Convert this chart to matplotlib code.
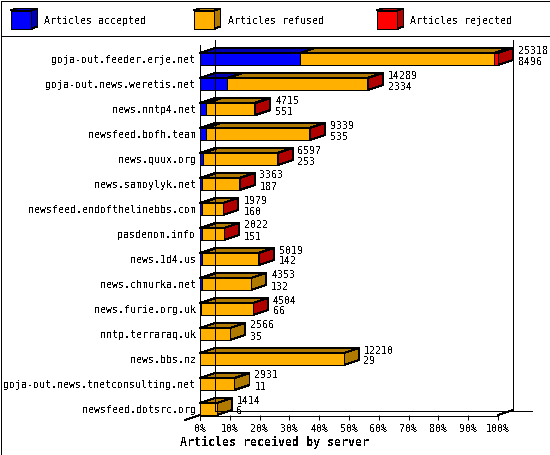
import matplotlib
matplotlib.use("Agg")
import matplotlib.pyplot as plt
from matplotlib.patches import Polygon
from matplotlib.lines import Line2D
from matplotlib.transforms import Affine2D, IdentityTransform

servers = ["goja-out.feeder.erje.net", "goja-out.news.weretis.net", "news.nntp4.net",
           "newsfeed.bofh.team", "news.quux.org", "news.samoylyk.net",
           "newsfeed.endofthelinebbs.com", "pasdenom.info", "news.1d4.us",
           "news.chmurka.net", "news.furie.org.uk", "nntp.terraraq.uk",
           "news.bbs.nz", "goja-out.news.tnetconsulting.net", "newsfeed.dotsrc.org"]
offered = [25318, 14289, 4715, 9339, 6597, 3363, 1979, 2022, 5019, 4353, 4504, 2566, 12210, 2931, 1414]
accepted = [8496, 2334, 551, 535, 253, 187, 160, 151, 142, 132, 66, 35, 29, 11, 6]
refused = [16502, 11825, 4064, 8754, 6314, 3156, 1809, 1861, 4817, 4221, 4408, 2531, 12181, 2920, 1408]
rejected = [320, 130, 100, 50, 30, 20, 10, 10, 60, 0, 30, 0, 0, 0, 0]
series_names = ["Articles accepted", "Articles refused", "Articles rejected"]
x_ticks = [0, 10, 20, 30, 40, 50, 60, 70, 80, 90, 100]
x_title = "Articles received by server"

FRONT = ["#0000ff", "#ffb000", "#ff0000"]
DARK = ["#0000b0", "#b07a00", "#b00000"]
W, H = 550, 455
MONO = "DejaVu Sans Mono"

plt.rcParams.update({"text.antialiased": False, "patch.antialiased": False,
                     "lines.antialiased": False, "font.family": MONO})

fig = plt.figure(figsize=(W / 100, H / 100), dpi=100, facecolor="white")
LEFT, RIGHT, TOP, BOTTOM = 200.0, 498.0, 45, 415
ax = fig.add_axes([LEFT / W, 1 - BOTTOM / H, (RIGHT - LEFT) / W, (BOTTOM - TOP) / H])
ax.set_xlim(0, 100)
ax.set_ylim(14.24, -0.56)
ax.patch.set_alpha(0)
for s in ax.spines.values():
    s.set_visible(False)

px = Affine2D().scale(1, -1).translate(0, H)  # top-left pixel space of the figure
DX, DY = 15, 5
LW = 0.72


def pline(xs, ys, z=1):
    fig.add_artist(Line2D(xs, ys, color="black", lw=LW, transform=px, zorder=z))


# page frame and legend separator
pline([0.5, W - 0.5, W - 0.5, 0.5, 0.5], [0.5, 0.5, H - 0.5, H - 0.5, 0.5])
pline([0.5, W - 0.5], [35.5, 35.5])

# chart box
pline([LEFT, LEFT], [TOP, BOTTOM + 5])
pline([LEFT + DX, LEFT + DX], [TOP - DY, BOTTOM - DY])
pline([RIGHT + DX, RIGHT + DX], [TOP - DY, BOTTOM - DY])
pline([LEFT, RIGHT], [BOTTOM + 0.5, BOTTOM + 0.5])
pline([LEFT + DX, 532], [BOTTOM - DY + 0.5, BOTTOM - DY + 0.5])
pline([LEFT - DX, LEFT], [BOTTOM + DY, BOTTOM])
pline([RIGHT, RIGHT + DX], [BOTTOM, BOTTOM - DY])

# legend
for i, name in enumerate(series_names):
    x0 = [10.5, 193.5, 376.5][i]
    fig.add_artist(Polygon([(x0, 10.5), (x0 + 21, 10.5), (x0 + 21, 28.5), (x0, 28.5)], closed=True,
                           fc=FRONT[i], ec="black", lw=LW, transform=px, zorder=3))
    fig.add_artist(Polygon([(x0, 10.5), (x0 + 6, 8.5), (x0 + 27, 8.5), (x0 + 21, 10.5)], closed=True,
                           fc=DARK[i], ec="black", lw=LW, transform=px, zorder=3))
    fig.add_artist(Polygon([(x0 + 21, 10.5), (x0 + 27, 8.5), (x0 + 27, 26.5), (x0 + 21, 28.5)], closed=True,
                           fc=DARK[i], ec="black", lw=LW, transform=px, zorder=3))
    fig.text((x0 + 34) / W, 1 - 20.5 / H, name, fontsize=7.2, family=MONO, va="center", ha="left")

# bars
scale = 100.0 / max(offered)
BAR_H = 0.48
fig.canvas.draw()


def extrude(pts):
    return [(x + DX, y + DY) for x, y in pts]


for row in range(len(servers)):
    left = 0.0
    segs = [accepted[row], refused[row], rejected[row]]
    last_dark = None
    for k, v in enumerate(segs):
        if v <= 0:
            continue
        w = v * scale
        ax.barh(row, w, left=left, height=BAR_H, color=FRONT[k], edgecolor="black",
                linewidth=LW, zorder=5, clip_on=False)
        p0 = ax.transData.transform((left, row - BAR_H / 2))
        p1 = ax.transData.transform((left + w, row - BAR_H / 2))
        fp = [tuple(p0), tuple(p1)]
        top = [fp[0], fp[1], extrude([fp[1]])[0], extrude([fp[0]])[0]]
        ax.add_patch(Polygon(top, closed=True, fc=DARK[k], ec="black", lw=LW,
                             transform=IdentityTransform(), zorder=4, clip_on=False))
        left += w
        last_dark = DARK[k]
    a = ax.transData.transform((left, row - BAR_H / 2))
    b = ax.transData.transform((left, row + BAR_H / 2))
    side = [tuple(a), tuple(b), (b[0] + DX, b[1] + DY), (a[0] + DX, a[1] + DY)]
    ax.add_patch(Polygon(side, closed=True, fc=last_dark, ec="black", lw=LW,
                         transform=IdentityTransform(), zorder=4, clip_on=False))
    ex, ey = a[0] + DX + 5, H - a[1]
    fig.text(ex / W, 1 - (ey - 2.5) / H, str(offered[row]), fontsize=7.2, family=MONO, va="center", ha="left", zorder=10)
    fig.text(ex / W, 1 - (ey + 8.5) / H, str(accepted[row]), fontsize=7.2, family=MONO, va="center", ha="left", zorder=10)

ax.set_yticks(range(len(servers)))
ax.set_yticklabels(servers, fontsize=7.2, family=MONO)
ax.tick_params(axis="y", length=0, pad=3.2)
ax.set_xticks(x_ticks)
ax.set_xticklabels([f"{t}%" for t in x_ticks], fontsize=7.2, family=MONO)
ax.tick_params(axis="x", length=3.6, width=LW, pad=3)

fig.text(274 / W, 1 - 442 / H, x_title, fontsize=8.4, family=MONO, fontweight="bold",
         ha="center", va="center")

fig.savefig("out.png", dpi=100, facecolor="white")
